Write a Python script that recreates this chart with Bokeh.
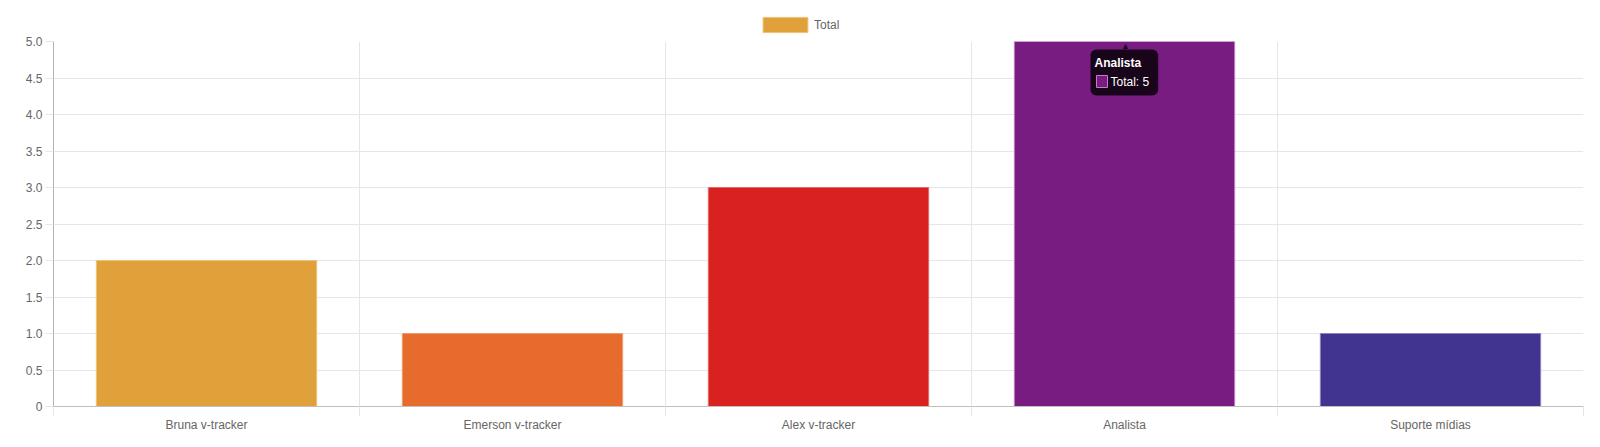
from bokeh.plotting import figure
from bokeh.layouts import column
from bokeh.models import (Range1d, FixedTicker, Legend, LegendItem, Label,
                          ColumnDataSource)
from bokeh.embed import file_html
from bokeh.resources import INLINE

categories = ["Bruna v-tracker", "Emerson v-tracker", "Alex v-tracker", "Analista", "Suporte mídias"]
totals = [2, 1, 3, 5, 1]
series_name = "Total"
y_ticks = [0, 0.5, 1.0, 1.5, 2.0, 2.5, 3.0, 3.5, 4.0, 4.5, 5.0]

bar_colors = ["#E1A13A", "#E76B2C", "#D92120", "#781C81", "#413390"]
bar_borders = ["#EDC27A", "#F09A6E", "#E46A6A", "#C07CC6", "#8C84BE"]

FONT = "Liberation Sans"
W = 1592

centers = [i + 0.5 for i in range(len(categories))]
bounds = [float(i) for i in range(len(categories) + 1)]

src = ColumnDataSource(dict(x=centers, top=totals, fill=bar_colors, line=bar_borders, cat=categories))

# ---- legend strip (Chart.js style legend above the plot) ----
LG_H = 34
lg = figure(width=W, height=LG_H, output_backend="svg", toolbar_location=None,
            x_range=Range1d(0, 1), y_range=Range1d(0, 1),
            min_border=0, x_axis_type=None, y_axis_type=None)
lg.outline_line_color = None
lg.xgrid.visible = False
lg.ygrid.visible = False
lsrc = ColumnDataSource(dict(x=[-1000], y=[-1000]))
lr = lg.rect(x="x", y="y", width=1, height=1, source=lsrc,
             fill_color=bar_colors[0], line_color=bar_borders[0], line_width=1)
legend = Legend(items=[LegendItem(label=series_name, renderers=[lr], index=0)],
                location=(704, 0), orientation="horizontal",
                padding=0, margin=0, spacing=0,
                border_line_color=None, background_fill_alpha=0,
                glyph_width=56, glyph_height=19, label_standoff=1,
                label_text_font=FONT, label_text_font_size="12px",
                label_text_color="#666666", label_height=19, label_width=10)
lg.add_layout(legend, "center")

# ---- main plot ----
p = figure(width=W, height=439 - LG_H, output_backend="svg", toolbar_location=None,
           x_range=Range1d(0, len(categories)), y_range=Range1d(0, 5),
           min_border_left=53, min_border_right=9, min_border_top=41 - LG_H, min_border_bottom=33)
p.outline_line_color = None
p.background_fill_color = "white"
p.border_fill_color = "white"

r = p.vbar(x="x", top="top", bottom=0, width=0.72, source=src,
           fill_color="fill", line_color="line", line_width=1)

# x axis
xa = p.xaxis[0]
xa.ticker = FixedTicker(ticks=centers, minor_ticks=bounds)
xa.major_label_overrides = {c: lab for c, lab in zip(centers, categories)}
xa.major_tick_line_color = None
xa.major_tick_out = 0
xa.major_tick_in = 0
xa.minor_tick_line_color = "#e6e6e6"
xa.minor_tick_out = 10
xa.minor_tick_in = 0
xa.axis_line_color = "#bfbfbf"
xa.major_label_text_font = FONT
xa.major_label_text_font_size = "12px"
xa.major_label_text_color = "#666666"
xa.major_label_standoff = 1

# y axis
ya = p.yaxis[0]
ya.ticker = FixedTicker(ticks=y_ticks)
ya.major_label_overrides = {t: ("0" if t == 0 else f"{t:.1f}") for t in y_ticks}
ya.major_tick_line_color = "#e6e6e6"
ya.major_tick_out = 8
ya.major_tick_in = 0
ya.minor_tick_line_color = None
ya.axis_line_color = "#b3b3b3"
ya.major_label_text_font = FONT
ya.major_label_text_font_size = "12px"
ya.major_label_text_color = "#666666"
ya.major_label_standoff = 3

# grids
p.xgrid.grid_line_color = None
p.xgrid.minor_grid_line_color = "#e6e6e6"
p.xgrid.ticker = FixedTicker(ticks=centers, minor_ticks=bounds)
p.ygrid.grid_line_color = "#e6e6e6"
p.ygrid.ticker = FixedTicker(ticks=y_ticks)

# tooltip (hover state shown in reference)
ti = categories.index("Analista")
tx = centers[ti]
ty = totals[ti]
tip_bg = Label(x=tx, y=ty, text="Analista", anchor="top_left",
               x_offset=-34, y_offset=-8,
               text_font=FONT, text_font_size="12px", text_font_style="bold",
               text_color="white",
               background_fill_color="black", background_fill_alpha=0.8,
               padding=(4, 17, 6, 26), border_radius=6)
p.add_layout(tip_bg)
caret = Label(x=tx, y=ty, text="\u25B2", anchor="bottom_center",
              x_offset=1, y_offset=-9, text_font=FONT, text_font_size="9px",
              text_color="black", text_alpha=0.8)
p.add_layout(caret)
swatch = Label(x=tx, y=ty, text="\u2003", anchor="top_left",
               x_offset=-28, y_offset=-34, text_font=FONT, text_font_size="11px",
               background_fill_color=bar_colors[ti], border_line_color=bar_borders[ti],
               border_line_width=1, padding=0)
p.add_layout(swatch)
body = Label(x=tx, y=ty, text=f"{series_name}: {totals[ti]}", anchor="top_left",
             x_offset=-14, y_offset=-33, text_font=FONT, text_font_size="12px",
             text_color="white")
p.add_layout(body)

layout = column(lg, p, spacing=0)
open("out.html", "w").write(file_html(layout, INLINE))
